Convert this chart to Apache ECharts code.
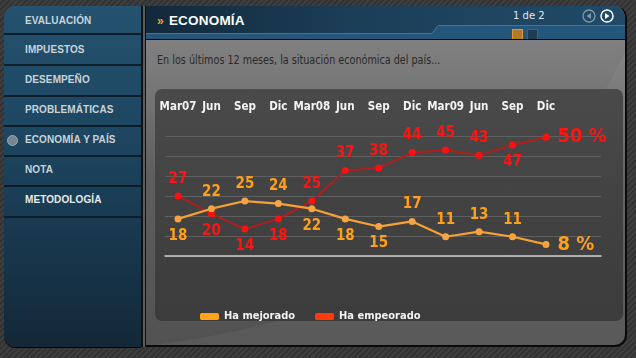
<!DOCTYPE html>
<html>
<head>
<meta charset="utf-8">
<script src="https://cdn.jsdelivr.net/npm/echarts@6/dist/echarts.min.js"></script>
<style>
html,body{margin:0;padding:0;}
body{width:636px;height:358px;overflow:hidden;position:relative;
 background:repeating-linear-gradient(135deg,#3e3e3e 0px,#3e3e3e 2px,#333 2px,#333 4px);
 font-family:"Liberation Sans",Arial,sans-serif;}
#side{position:absolute;left:4px;top:6px;width:137px;height:341px;border-radius:12px 0 0 12px;
 background:linear-gradient(#24526f 0%,#1d4560 40%,#132838 100%);box-shadow:0 1px 0 #000;}
.item{position:absolute;left:0;width:137px;height:30px;line-height:30px;padding-left:21px;box-sizing:border-box;
 color:#c9d3da;font-weight:bold;font-size:10px;letter-spacing:0.1px;}
.sep{position:absolute;left:0;width:137px;height:2px;background:#0e1e29;}
#dot{position:absolute;left:3px;top:129px;width:9px;height:9px;border-radius:50%;background:#76858f;border:1px solid #9aa8b1;}
#div1{position:absolute;left:141px;top:6px;width:5px;height:341px;background:#5c5c5c;border-left:2px solid #111;border-right:1px solid #111;box-sizing:border-box;}
#main{position:absolute;left:146px;top:6px;width:481px;height:341px;border-radius:0 12px 12px 0;overflow:hidden;
 border-right:2px solid #0a0a0a;border-bottom:2px solid #0a0a0a;box-sizing:border-box;
 background:linear-gradient(#858585 0%,#7a7a7a 20%,#5e5e5e 50%,#525252 100%);}
#head{position:absolute;left:0;top:0;width:481px;height:33px;border-bottom:1px solid #0b0b0b;
 background:linear-gradient(90deg,#12293a 0%,#1c3f59 45%,#204a68 100%);}
#title{position:absolute;left:11px;top:7px;font-size:13.5px;font-weight:bold;color:#fff;letter-spacing:0.2px;}
#title span{color:#f2a21e;font-size:12px;margin-right:5px;}
#page{position:absolute;left:367px;top:4px;font-size:10px;color:#e4e8ec;font-family:"DejaVu Sans",sans-serif;}
#sub{position:absolute;left:11px;top:46px;font-size:12.6px;color:#2a2a2a;white-space:nowrap;
 font-family:"Liberation Sans Narrow","DejaVu Sans Condensed",sans-serif;transform:scaleX(0.85);transform-origin:0 0;}
#inner{position:absolute;left:9px;top:83px;width:468px;height:232px;border-radius:7px;
 background:linear-gradient(#4a4a4a 0%,#424242 50%,#3c3c3c 100%);}
#shine{position:absolute;left:0;top:0;}
#chart{position:absolute;left:0;top:0;width:636px;height:358px;}
</style>
</head>
<body>
<div id="side">
 <div class="item" style="top:0px">EVALUACIÓN</div>
 <div class="sep" style="top:27px"></div>
 <div class="item" style="top:29px">IMPUESTOS</div>
 <div class="sep" style="top:58px"></div>
 <div class="item" style="top:59px">DESEMPEÑO</div>
 <div class="sep" style="top:89px"></div>
 <div class="item" style="top:89px">PROBLEMÁTICAS</div>
 <div class="sep" style="top:119px"></div>
 <div class="item" style="top:119px">ECONOMÍA Y PAÍS</div>
 <div id="dot"></div>
 <div class="sep" style="top:149px"></div>
 <div class="item" style="top:149px">NOTA</div>
 <div class="sep" style="top:179px"></div>
 <div class="item" style="top:179px;color:#e6ebee">METODOLOGÍA</div>
 <div class="sep" style="top:210px"></div>
</div>
<div id="div1"></div>
<div id="main">
 <svg id="shine" width="481" height="341"><path d="M0 340 Q 374 294 484 34 L 484 341 Z" fill="rgba(255,255,255,0.045)"/></svg>
 <div id="head">
  <svg width="481" height="33" style="position:absolute;left:0;top:0">
   <path d="M292 19 L481 19 L481 33 L0 33 L0 28 L286 28 Z" fill="#24557a"/>
   <path d="M0 27.5 L286 27.5 L292 19.5 L481 19.5" stroke="#4c7391" stroke-width="1" fill="none"/>
   <rect x="366.5" y="23.5" width="10" height="10" fill="#b37b27" stroke="#d89a3c"/>
   <rect x="381.5" y="23.5" width="10" height="10" fill="#1d3b53" stroke="#3c6585"/>
   <circle cx="443" cy="10" r="6" fill="none" stroke="#7f98ab" stroke-width="1.3"/>
   <path d="M445 7 L440.5 10 L445 13 Z" fill="#7f98ab"/>
   <circle cx="461" cy="10" r="6" fill="none" stroke="#fff" stroke-width="1.5"/>
   <path d="M459 7 L463.5 10 L459 13 Z" fill="#fff"/>
  </svg>
  <div id="title"><span>»</span>ECONOMÍA</div>
  <div id="page">1 de 2</div>
 </div>
 <div id="sub">En los últimos 12 meses, la situación económica del país...</div>
 <div id="inner"></div>
</div>
<div id="chart"></div>
<script>
// ---- data ----
var categories = ['Mar07','Jun','Sep','Dic','Mar08','Jun','Sep','Dic','Mar09','Jun','Sep','Dic'];
var mejorado  = [18, 22, 25, 24, 22, 18, 15, 17, 11, 13, 11, 8];
var empeorado = [27, 20, 14, 18, 25, 37, 38, 44, 45, 43, 47, 50];
var seriesNames = ['Ha mejorado', 'Ha empeorado'];

// ---- label placement (style) ----
var posMej = ['bottom','top','top','top','bottom','bottom','bottom','top','top','top','top','right'];
var posEmp = ['top','bottom','bottom','bottom','top','top','top','top','top','top','bottom','right'];

var labelFont = '"DejaVu Sans Condensed", "DejaVu Sans", sans-serif';
function build(vals, pos, color){
  return vals.map(function(v,i){
    var last = pos[i] === 'right';
    return {value: v, label: last ? {position:'right', distance:8, fontSize:20, formatter:'{c} %', color:color}
                                 : {position: pos[i], distance:6}};
  });
}

var chart = echarts.init(document.getElementById('chart'), null, {renderer:'canvas'});
chart.setOption({
  animation:false,
  backgroundColor:'transparent',
  grid:[
    {left:178, top:136, width:368, height:120},
    {left:165, top:136, width:436, height:120}
  ],
  legend:{
    left:195, top:306, itemWidth:19, itemHeight:7, itemGap:20,
    textStyle:{color:'#f2f2f2', fontWeight:'bold', fontSize:11, fontFamily:'"DejaVu Sans Condensed", sans-serif'},
    data:[
      {name:seriesNames[0], icon:'roundRect', itemStyle:{color:'#ffa31a'}},
      {name:seriesNames[1], icon:'roundRect', itemStyle:{color:'#ff3a0a'}}
    ]
  },
  xAxis:[
    {gridIndex:0, type:'category', data:categories, boundaryGap:false, position:'top',
     axisLine:{show:false}, axisTick:{show:false}, splitLine:{show:false},
     axisLabel:{interval:0, margin:23, color:'#f4f4f4', fontWeight:'bold', fontSize:11.5,
       fontFamily:'"DejaVu Sans Condensed", sans-serif'}},
    {gridIndex:1, type:'value', min:0, max:1, position:'bottom',
     axisLabel:{show:false}, axisTick:{show:false}, splitLine:{show:false},
     axisLine:{show:true, lineStyle:{color:'#cfcfcf', width:1.5}}}
  ],
  yAxis:[
    {gridIndex:0, type:'value', min:3.45, max:50.5, show:false, splitLine:{show:false}},
    {gridIndex:1, type:'value', min:0, max:6, interval:1,
     axisLabel:{show:false}, axisLine:{show:false}, axisTick:{show:false},
     splitLine:{show:true, lineStyle:{color:'#5f5f5f', width:1}}}
  ],
  series:[
    {name:seriesNames[1], type:'line', xAxisIndex:0, yAxisIndex:0,
     data: build(empeorado, posEmp, '#ff1414'),
     symbol:'circle', symbolSize:7, lineStyle:{color:'#b01e1e', width:2},
     itemStyle:{color:'#ff1010'},
     label:{show:true, color:'#ff1414', fontSize:15, fontWeight:'bold', fontFamily:labelFont}},
    {name:seriesNames[0], type:'line', xAxisIndex:0, yAxisIndex:0,
     data: build(mejorado, posMej, '#ffa01a'),
     symbol:'circle', symbolSize:7, lineStyle:{color:'#f6a038', width:2.2},
     itemStyle:{color:'#f8a442'},
     label:{show:true, color:'#ffa01a', fontSize:15, fontWeight:'bold', fontFamily:labelFont}}
  ]
});
</script>
</body>
</html>
